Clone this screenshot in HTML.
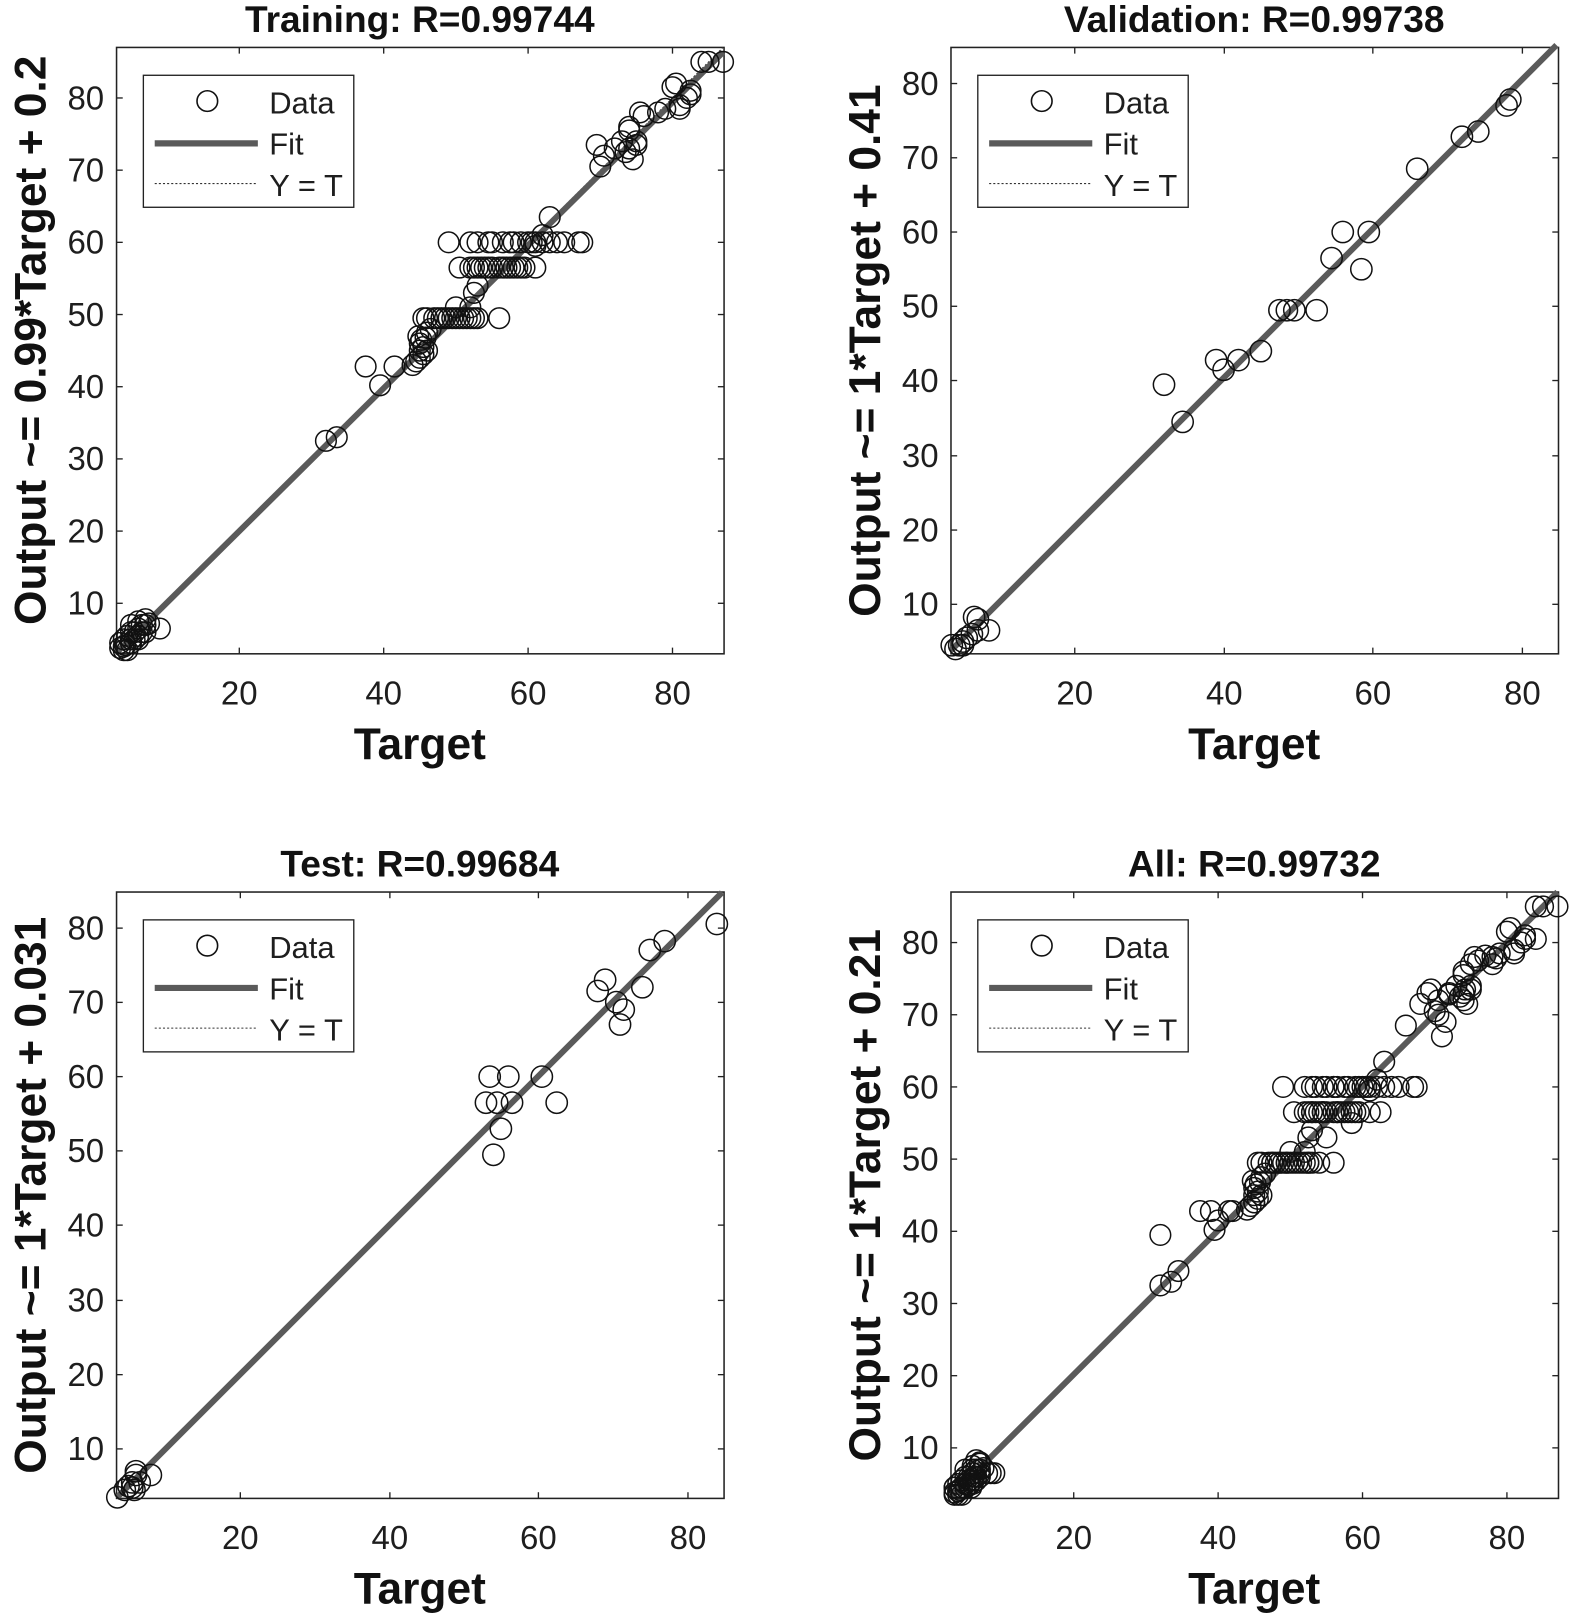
<!DOCTYPE html>
<html><head><meta charset="utf-8"><style>
html,body{margin:0;padding:0;background:#fff}
svg{display:block}
text{font-family:"Liberation Sans",Arial,sans-serif;fill:#1e1e1e}
.tk{font-size:32px}
.tl{font-size:43px;font-weight:bold;fill:#111}
.tt{font-size:36px;font-weight:bold;fill:#111}
.lg{font-size:30px}
circle{fill:none;stroke:#111;stroke-width:1.5;vector-effect:non-scaling-stroke}
.fit{stroke:#5a5a5a;stroke-width:6;vector-effect:non-scaling-stroke}
.yt{stroke:#333;stroke-width:1;stroke-dasharray:2 2;vector-effect:non-scaling-stroke}
.ax{fill:none;stroke:#222;stroke-width:1.5}
.tm{stroke:#222;stroke-width:1.3}
</style></head><body>
<svg width="1575" height="1617" viewBox="0 0 1527 1568" preserveAspectRatio="none">
<defs>
<g id="trainpts">
<circle cx="3.5" cy="4.5" r="1.43"/><circle cx="4" cy="4" r="1.43"/><circle cx="4.5" cy="3.5" r="1.43"/><circle cx="4" cy="5" r="1.43"/><circle cx="5" cy="5" r="1.43"/><circle cx="5" cy="4.5" r="1.43"/><circle cx="5.5" cy="6" r="1.43"/><circle cx="6" cy="5.5" r="1.43"/><circle cx="6" cy="6.5" r="1.43"/><circle cx="6.5" cy="7" r="1.43"/><circle cx="7" cy="7" r="1.43"/><circle cx="7" cy="6" r="1.43"/><circle cx="5" cy="6" r="1.43"/><circle cx="4.5" cy="5.5" r="1.43"/><circle cx="6" cy="7.5" r="1.43"/><circle cx="7.5" cy="7.2" r="1.43"/><circle cx="5.5" cy="5" r="1.43"/><circle cx="6.5" cy="6" r="1.43"/><circle cx="3.5" cy="3.8" r="1.43"/><circle cx="4.2" cy="4.2" r="1.43"/><circle cx="9" cy="6.5" r="1.43"/><circle cx="5" cy="7" r="1.43"/><circle cx="4" cy="3.5" r="1.43"/><circle cx="6" cy="5" r="1.43"/><circle cx="7" cy="7.8" r="1.43"/>
<circle cx="32" cy="32.5" r="1.43"/><circle cx="33.5" cy="33" r="1.43"/><circle cx="37.5" cy="42.8" r="1.43"/><circle cx="39.5" cy="40.2" r="1.43"/><circle cx="41.5" cy="42.8" r="1.43"/><circle cx="44" cy="43" r="1.43"/><circle cx="44.5" cy="43.5" r="1.43"/><circle cx="45" cy="45" r="1.43"/><circle cx="45" cy="46" r="1.43"/><circle cx="45.2" cy="46.5" r="1.43"/><circle cx="45.5" cy="44.5" r="1.43"/><circle cx="45.5" cy="45.5" r="1.43"/><circle cx="45.8" cy="46.8" r="1.43"/><circle cx="46" cy="45" r="1.43"/><circle cx="45" cy="44" r="1.43"/><circle cx="44.8" cy="47" r="1.43"/><circle cx="46" cy="47.5" r="1.43"/><circle cx="46.5" cy="48" r="1.43"/><circle cx="47" cy="49.5" r="1.43"/><circle cx="45.5" cy="49.5" r="1.43"/><circle cx="46" cy="49.5" r="1.43"/><circle cx="47.5" cy="49.5" r="1.43"/><circle cx="48" cy="49.5" r="1.43"/><circle cx="48.5" cy="49.5" r="1.43"/><circle cx="49" cy="49.5" r="1.43"/><circle cx="49.5" cy="49.5" r="1.43"/><circle cx="50" cy="51" r="1.43"/><circle cx="50" cy="49.5" r="1.43"/><circle cx="50.5" cy="49.5" r="1.43"/><circle cx="51" cy="49.5" r="1.43"/><circle cx="51.5" cy="49.5" r="1.43"/><circle cx="52" cy="49.5" r="1.43"/><circle cx="52.5" cy="49.5" r="1.43"/><circle cx="53" cy="49.5" r="1.43"/><circle cx="52" cy="51" r="1.43"/><circle cx="56" cy="49.5" r="1.43"/><circle cx="52.5" cy="53" r="1.43"/><circle cx="53" cy="54" r="1.43"/>
<circle cx="50.5" cy="56.5" r="1.43"/><circle cx="52" cy="56.5" r="1.43"/><circle cx="52.5" cy="56.5" r="1.43"/><circle cx="53" cy="56.5" r="1.43"/><circle cx="53.5" cy="56.5" r="1.43"/><circle cx="54" cy="56.5" r="1.43"/><circle cx="54.5" cy="56.5" r="1.43"/><circle cx="55" cy="56.5" r="1.43"/><circle cx="56" cy="56.5" r="1.43"/><circle cx="56.5" cy="56.5" r="1.43"/><circle cx="57" cy="56.5" r="1.43"/><circle cx="57.5" cy="56.5" r="1.43"/><circle cx="58" cy="56.5" r="1.43"/><circle cx="58.5" cy="56.5" r="1.43"/><circle cx="59" cy="56.5" r="1.43"/><circle cx="59.5" cy="56.5" r="1.43"/><circle cx="61" cy="56.5" r="1.43"/>
<circle cx="49" cy="60" r="1.43"/><circle cx="52" cy="60" r="1.43"/><circle cx="53" cy="60" r="1.43"/><circle cx="54.5" cy="60" r="1.43"/><circle cx="55" cy="60" r="1.43"/><circle cx="56.5" cy="60" r="1.43"/><circle cx="57.5" cy="60" r="1.43"/><circle cx="58" cy="60" r="1.43"/><circle cx="59" cy="60" r="1.43"/><circle cx="60" cy="60" r="1.43"/><circle cx="61" cy="60" r="1.43"/><circle cx="62" cy="60" r="1.43"/><circle cx="63" cy="60" r="1.43"/><circle cx="64" cy="60" r="1.43"/><circle cx="65" cy="60" r="1.43"/><circle cx="67" cy="60" r="1.43"/><circle cx="67.5" cy="60" r="1.43"/>
<circle cx="61" cy="59.5" r="1.43"/><circle cx="63" cy="63.5" r="1.43"/><circle cx="60.5" cy="60" r="1.43"/><circle cx="62" cy="61" r="1.43"/>
<circle cx="69.5" cy="73.5" r="1.43"/><circle cx="70" cy="70.5" r="1.43"/><circle cx="70.5" cy="72" r="1.43"/><circle cx="72" cy="73" r="1.43"/><circle cx="73" cy="74" r="1.43"/><circle cx="73.5" cy="72.5" r="1.43"/><circle cx="74" cy="75.5" r="1.43"/><circle cx="74" cy="73" r="1.43"/><circle cx="74.5" cy="71.5" r="1.43"/><circle cx="74" cy="76" r="1.43"/><circle cx="75" cy="74" r="1.43"/><circle cx="75" cy="73.5" r="1.43"/><circle cx="75.5" cy="78" r="1.43"/><circle cx="76" cy="77.5" r="1.43"/><circle cx="78" cy="78" r="1.43"/><circle cx="79" cy="78.5" r="1.43"/><circle cx="80" cy="81.5" r="1.43"/><circle cx="80.5" cy="82" r="1.43"/><circle cx="81" cy="79" r="1.43"/><circle cx="81" cy="78.5" r="1.43"/><circle cx="82" cy="80" r="1.43"/><circle cx="82.5" cy="81" r="1.43"/><circle cx="82.5" cy="80.5" r="1.43"/><circle cx="84" cy="85" r="1.43"/><circle cx="85" cy="85" r="1.43"/><circle cx="87" cy="85" r="1.43"/>
</g>
<g id="valpts">
<circle cx="3.5" cy="4.5" r="1.43"/><circle cx="4" cy="4" r="1.43"/><circle cx="4.5" cy="4.5" r="1.43"/><circle cx="5" cy="5" r="1.43"/><circle cx="5.5" cy="5.5" r="1.43"/><circle cx="6.2" cy="6" r="1.43"/><circle cx="6.5" cy="8.3" r="1.43"/><circle cx="7" cy="8" r="1.43"/><circle cx="7" cy="6.5" r="1.43"/><circle cx="8.5" cy="6.5" r="1.43"/><circle cx="5" cy="4.5" r="1.43"/>
<circle cx="32" cy="39.5" r="1.43"/><circle cx="34.5" cy="34.5" r="1.43"/><circle cx="39" cy="42.8" r="1.43"/><circle cx="40" cy="41.5" r="1.43"/><circle cx="42" cy="42.8" r="1.43"/><circle cx="45" cy="44" r="1.43"/><circle cx="47.5" cy="49.5" r="1.43"/><circle cx="48.5" cy="49.5" r="1.43"/><circle cx="49.5" cy="49.5" r="1.43"/><circle cx="52.5" cy="49.5" r="1.43"/><circle cx="54.5" cy="56.5" r="1.43"/><circle cx="56" cy="60" r="1.43"/><circle cx="58.5" cy="55" r="1.43"/><circle cx="59.5" cy="60" r="1.43"/><circle cx="66" cy="68.5" r="1.43"/><circle cx="72" cy="72.8" r="1.43"/><circle cx="74.2" cy="73.5" r="1.43"/><circle cx="78" cy="77" r="1.43"/><circle cx="78.5" cy="77.8" r="1.43"/>
</g>
<g id="testpts">
<circle cx="3.5" cy="3.5" r="1.43"/><circle cx="4.5" cy="4.5" r="1.43"/><circle cx="5" cy="5" r="1.43"/><circle cx="5.5" cy="5.5" r="1.43"/><circle cx="5.8" cy="4.5" r="1.43"/><circle cx="6" cy="6.5" r="1.43"/><circle cx="6" cy="7" r="1.43"/><circle cx="5.5" cy="4.8" r="1.43"/><circle cx="8" cy="6.5" r="1.43"/><circle cx="6.5" cy="5.5" r="1.43"/>
<circle cx="53" cy="56.5" r="1.43"/><circle cx="53.5" cy="60" r="1.43"/><circle cx="54" cy="49.5" r="1.43"/><circle cx="54.5" cy="56.5" r="1.43"/><circle cx="55" cy="53" r="1.43"/><circle cx="56" cy="60" r="1.43"/><circle cx="56.5" cy="56.5" r="1.43"/><circle cx="60.5" cy="60" r="1.43"/><circle cx="62.5" cy="56.5" r="1.43"/><circle cx="68" cy="71.5" r="1.43"/><circle cx="69" cy="73" r="1.43"/><circle cx="70.5" cy="70" r="1.43"/><circle cx="71" cy="67" r="1.43"/><circle cx="71.5" cy="69" r="1.43"/><circle cx="74" cy="72" r="1.43"/><circle cx="75" cy="77" r="1.43"/><circle cx="77" cy="78.2" r="1.43"/><circle cx="84" cy="80.5" r="1.43"/>
</g>
<g id="legend">
<rect x="139" y="73" width="204" height="128" fill="#fff" stroke="#222" stroke-width="1.3"/>
<circle cx="201" cy="98" r="10" style="stroke-width:1.6"/>
<text class="lg" x="261" y="110">Data</text>
<line x1="150" y1="139" x2="250" y2="139" stroke="#5a5a5a" stroke-width="6"/>
<text class="lg" x="261" y="150">Fit</text>
<line x1="150" y1="178" x2="250" y2="178" stroke="#333" stroke-width="1" stroke-dasharray="2 2"/>
<text class="lg" x="261" y="190">Y = T</text>
</g>
<g id="frameA">
<rect class="ax" x="113" y="46" width="589" height="588"/>
<g class="tm">
<line x1="232" y1="634" x2="232" y2="628"/><line x1="372" y1="634" x2="372" y2="628"/><line x1="512" y1="634" x2="512" y2="628"/><line x1="652" y1="634" x2="652" y2="628"/>
<line x1="232" y1="46" x2="232" y2="52"/><line x1="372" y1="46" x2="372" y2="52"/><line x1="512" y1="46" x2="512" y2="52"/><line x1="652" y1="46" x2="652" y2="52"/>
<line x1="113" y1="585" x2="119" y2="585"/><line x1="113" y1="515" x2="119" y2="515"/><line x1="113" y1="445" x2="119" y2="445"/><line x1="113" y1="375" x2="119" y2="375"/><line x1="113" y1="305" x2="119" y2="305"/><line x1="113" y1="235" x2="119" y2="235"/><line x1="113" y1="165" x2="119" y2="165"/><line x1="113" y1="95" x2="119" y2="95"/>
<line x1="702" y1="585" x2="696" y2="585"/><line x1="702" y1="515" x2="696" y2="515"/><line x1="702" y1="445" x2="696" y2="445"/><line x1="702" y1="375" x2="696" y2="375"/><line x1="702" y1="305" x2="696" y2="305"/><line x1="702" y1="235" x2="696" y2="235"/><line x1="702" y1="165" x2="696" y2="165"/><line x1="702" y1="95" x2="696" y2="95"/>
</g>
<g class="tk" text-anchor="middle"><text x="232" y="683">20</text><text x="372" y="683">40</text><text x="512" y="683">60</text><text x="652" y="683">80</text></g>
<g class="tk" text-anchor="end"><text x="101" y="596">10</text><text x="101" y="526">20</text><text x="101" y="456">30</text><text x="101" y="386">40</text><text x="101" y="316">50</text><text x="101" y="246">60</text><text x="101" y="176">70</text><text x="101" y="106">80</text></g>
<text class="tl" x="407" y="736" text-anchor="middle">Target</text>
</g>
<g id="frameB">
<rect class="ax" x="113" y="46" width="589" height="588"/>
<g class="tm">
<line x1="233" y1="634" x2="233" y2="628"/><line x1="378" y1="634" x2="378" y2="628"/><line x1="522" y1="634" x2="522" y2="628"/><line x1="667" y1="634" x2="667" y2="628"/>
<line x1="233" y1="46" x2="233" y2="52"/><line x1="378" y1="46" x2="378" y2="52"/><line x1="522" y1="46" x2="522" y2="52"/><line x1="667" y1="46" x2="667" y2="52"/>
<line x1="113" y1="586" x2="119" y2="586"/><line x1="113" y1="514" x2="119" y2="514"/><line x1="113" y1="442" x2="119" y2="442"/><line x1="113" y1="369" x2="119" y2="369"/><line x1="113" y1="297" x2="119" y2="297"/><line x1="113" y1="225" x2="119" y2="225"/><line x1="113" y1="153" x2="119" y2="153"/><line x1="113" y1="81" x2="119" y2="81"/>
<line x1="702" y1="586" x2="696" y2="586"/><line x1="702" y1="514" x2="696" y2="514"/><line x1="702" y1="442" x2="696" y2="442"/><line x1="702" y1="369" x2="696" y2="369"/><line x1="702" y1="297" x2="696" y2="297"/><line x1="702" y1="225" x2="696" y2="225"/><line x1="702" y1="153" x2="696" y2="153"/><line x1="702" y1="81" x2="696" y2="81"/>
</g>
<g class="tk" text-anchor="middle"><text x="233" y="683">20</text><text x="378" y="683">40</text><text x="522" y="683">60</text><text x="667" y="683">80</text></g>
<g class="tk" text-anchor="end"><text x="101" y="597">10</text><text x="101" y="525">20</text><text x="101" y="453">30</text><text x="101" y="380">40</text><text x="101" y="308">50</text><text x="101" y="236">60</text><text x="101" y="164">70</text><text x="101" y="92">80</text></g>
<text class="tl" x="407" y="736" text-anchor="middle">Target</text>
</g>
</defs>

<g>
<use href="#frameA"/>
<text class="tt" x="407" y="31" text-anchor="middle">Training: R=0.99744</text>
<text class="tl" transform="translate(44,330) rotate(-90)" text-anchor="middle">Output ~= 0.99*Target + 0.2</text>
<g transform="translate(92,655) scale(7,-7)">
<line class="yt" x1="3" y1="3" x2="87" y2="87"/>
<line class="fit" x1="3" y1="3.17" x2="87" y2="86.33"/>
<use href="#trainpts"/>
</g>
<use href="#legend"/>
</g>

<g transform="translate(809,0)">
<use href="#frameB"/>
<text class="tt" x="407" y="31" text-anchor="middle">Validation: R=0.99738</text>
<text class="tl" transform="translate(44,340) rotate(-90)" text-anchor="middle">Output ~= 1*Target + 0.41</text>
<g transform="translate(88.5,658.2) scale(7.22,-7.22)">
<line class="yt" x1="3.4" y1="3.4" x2="84.7" y2="84.7"/>
<line class="fit" x1="3.4" y1="3.81" x2="84.7" y2="85.1"/>
<use href="#valpts"/>
</g>
<use href="#legend"/>
</g>

<g transform="translate(0,819)">
<use href="#frameB"/>
<text class="tt" x="407" y="31" text-anchor="middle">Test: R=0.99684</text>
<text class="tl" transform="translate(44,340) rotate(-90)" text-anchor="middle">Output ~= 1*Target + 0.031</text>
<g transform="translate(88.5,658.2) scale(7.22,-7.22)">
<line class="yt" x1="3.4" y1="3.4" x2="84.7" y2="84.7"/>
<line class="fit" x1="3.4" y1="3.43" x2="84.7" y2="84.73"/>
<use href="#testpts"/>
</g>
<use href="#legend"/>
</g>

<g transform="translate(809,819)">
<use href="#frameA"/>
<text class="tt" x="407" y="31" text-anchor="middle">All: R=0.99732</text>
<text class="tl" transform="translate(44,340) rotate(-90)" text-anchor="middle">Output ~= 1*Target + 0.21</text>
<g transform="translate(92,655) scale(7,-7)">
<line class="yt" x1="3" y1="3" x2="87" y2="87"/>
<line class="fit" x1="3" y1="3.21" x2="87" y2="87"/>
<use href="#trainpts"/>
<use href="#valpts"/>
<use href="#testpts"/>
</g>
<use href="#legend"/>
</g>
</svg>
</body></html>
